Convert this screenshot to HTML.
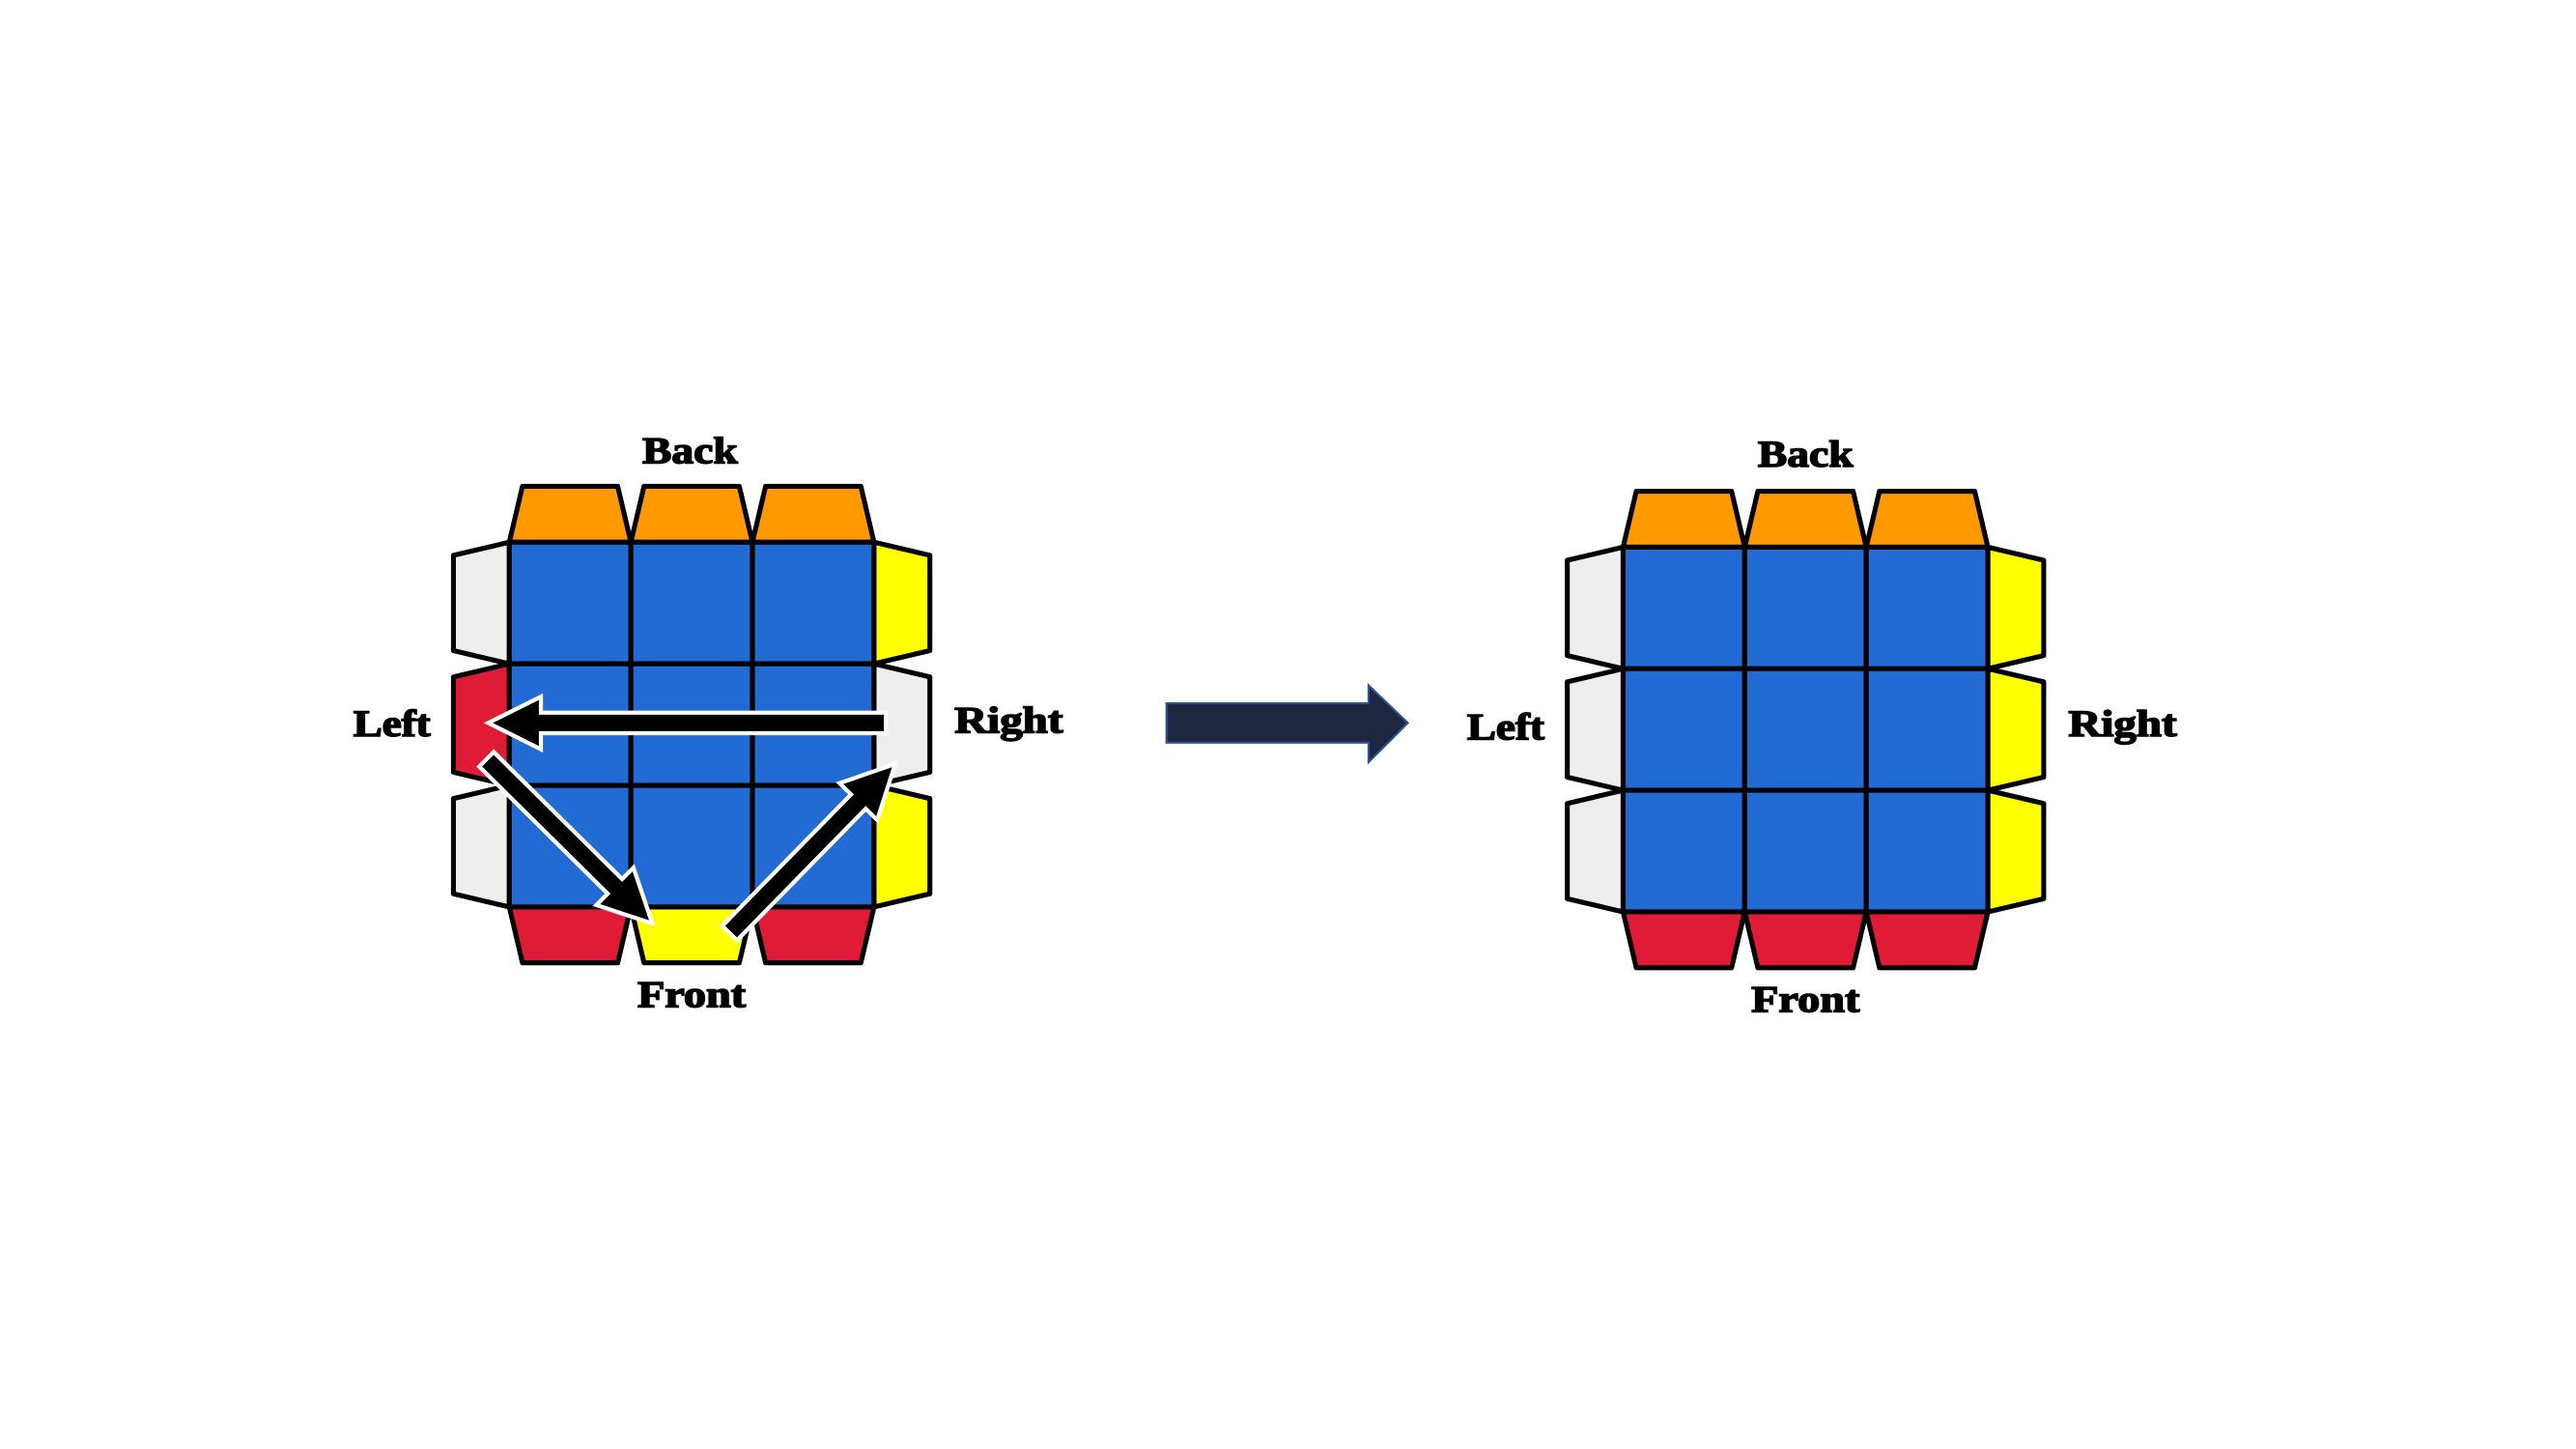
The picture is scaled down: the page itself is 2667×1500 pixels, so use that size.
<!DOCTYPE html>
<html><head><meta charset="utf-8"><style>html,body{margin:0;padding:0;background:#fff}svg{display:block}</style></head>
<body>
<svg width="2667" height="1500" viewBox="0 0 1568 881.9" xmlns="http://www.w3.org/2000/svg">
<rect width="1568" height="881.9" fill="#fff"/>
<g stroke="#000" stroke-width="3" stroke-linejoin="round">
<!-- LEFT CUBE -->
<g transform="translate(310,330)">
<g fill="#FF9900"><polygon points="8,-34 66,-34 74,0 0,0"/><polygon points="82,-34 140,-34 148,0 74,0"/><polygon points="156,-34 214,-34 222,0 148,0"/></g>
<polygon fill="#EEEEEE" points="0,0 -34,8 -34,66 0,74"/>
<polygon fill="#E01B36" points="0,74 -34,82 -34,140 0,148"/>
<polygon fill="#EEEEEE" points="0,148 -34,156 -34,214 0,222"/>
<polygon fill="#FFFF00" points="222,0 256,8 256,66 222,74"/>
<polygon fill="#EEEEEE" points="222,74 256,82 256,140 222,148"/>
<polygon fill="#FFFF00" points="222,148 256,156 256,214 222,222"/>
<polygon fill="#E01B36" points="0,222 74,222 66,256 8,256"/>
<polygon fill="#FFFF00" points="74,222 148,222 140,256 82,256"/>
<polygon fill="#E01B36" points="148,222 222,222 214,256 156,256"/>
<g fill="#226BD4">
<rect x="0" y="0" width="74" height="74"/><rect x="74" y="0" width="74" height="74"/><rect x="148" y="0" width="74" height="74"/>
<rect x="0" y="74" width="74" height="74"/><rect x="74" y="74" width="74" height="74"/><rect x="148" y="74" width="74" height="74"/>
<rect x="0" y="148" width="74" height="74"/><rect x="74" y="148" width="74" height="74"/><rect x="148" y="148" width="74" height="74"/>
</g>
</g>
<!-- RIGHT CUBE -->
<g transform="translate(988,333)">
<g fill="#FF9900"><polygon points="8,-34 66,-34 74,0 0,0"/><polygon points="82,-34 140,-34 148,0 74,0"/><polygon points="156,-34 214,-34 222,0 148,0"/></g>
<g fill="#EEEEEE"><polygon points="0,0 -34,8 -34,66 0,74"/><polygon points="0,74 -34,82 -34,140 0,148"/><polygon points="0,148 -34,156 -34,214 0,222"/></g>
<g fill="#FFFF00"><polygon points="222,0 256,8 256,66 222,74"/><polygon points="222,74 256,82 256,140 222,148"/><polygon points="222,148 256,156 256,214 222,222"/></g>
<g fill="#E01B36"><polygon points="0,222 74,222 66,256 8,256"/><polygon points="74,222 148,222 140,256 82,256"/><polygon points="148,222 222,222 214,256 156,256"/></g>
<g fill="#226BD4">
<rect x="0" y="0" width="74" height="74"/><rect x="74" y="0" width="74" height="74"/><rect x="148" y="0" width="74" height="74"/>
<rect x="0" y="74" width="74" height="74"/><rect x="74" y="74" width="74" height="74"/><rect x="148" y="74" width="74" height="74"/>
<rect x="0" y="148" width="74" height="74"/><rect x="74" y="148" width="74" height="74"/><rect x="148" y="148" width="74" height="74"/>
</g>
</g>
</g>
<!-- arrows on left cube -->
<g fill="#000" stroke="#fff" stroke-width="5" stroke-linejoin="miter" paint-order="stroke">
<polygon transform="translate(538,440) rotate(180)" points="0,-5 210,-5 210,-14 238,0 210,14 210,5 0,5"/>
<polygon transform="translate(297,463) rotate(44.7)" points="0,-5 110,-5 110,-14 138,0 110,14 110,5 0,5"/>
<polygon transform="translate(445,567) rotate(-45.6)" points="0,-5 112,-5 112,-14 140,0 112,14 112,5 0,5"/>
</g>
<!-- big arrow -->
<polygon points="710,428 833,428 833,417 857,440 833,464 833,452 710,452" fill="#1F2740" stroke="#2F5597" stroke-width="1.2"/>
<!-- labels -->
<g font-family="Liberation Serif, serif" font-weight="bold" font-size="23" fill="#000" stroke="#000" stroke-width="0.9">
<text x="391" y="282" textLength="58" lengthAdjust="spacingAndGlyphs">Back</text>
<text x="215" y="448" textLength="47" lengthAdjust="spacingAndGlyphs">Left</text>
<text x="581" y="446" textLength="66" lengthAdjust="spacingAndGlyphs">Right</text>
<text x="388" y="613" textLength="66" lengthAdjust="spacingAndGlyphs">Front</text>
<text x="1070" y="284" textLength="58" lengthAdjust="spacingAndGlyphs">Back</text>
<text x="893" y="450" textLength="47" lengthAdjust="spacingAndGlyphs">Left</text>
<text x="1259" y="448" textLength="66" lengthAdjust="spacingAndGlyphs">Right</text>
<text x="1066" y="616" textLength="66" lengthAdjust="spacingAndGlyphs">Front</text>
</g>
</svg>
</body></html>
